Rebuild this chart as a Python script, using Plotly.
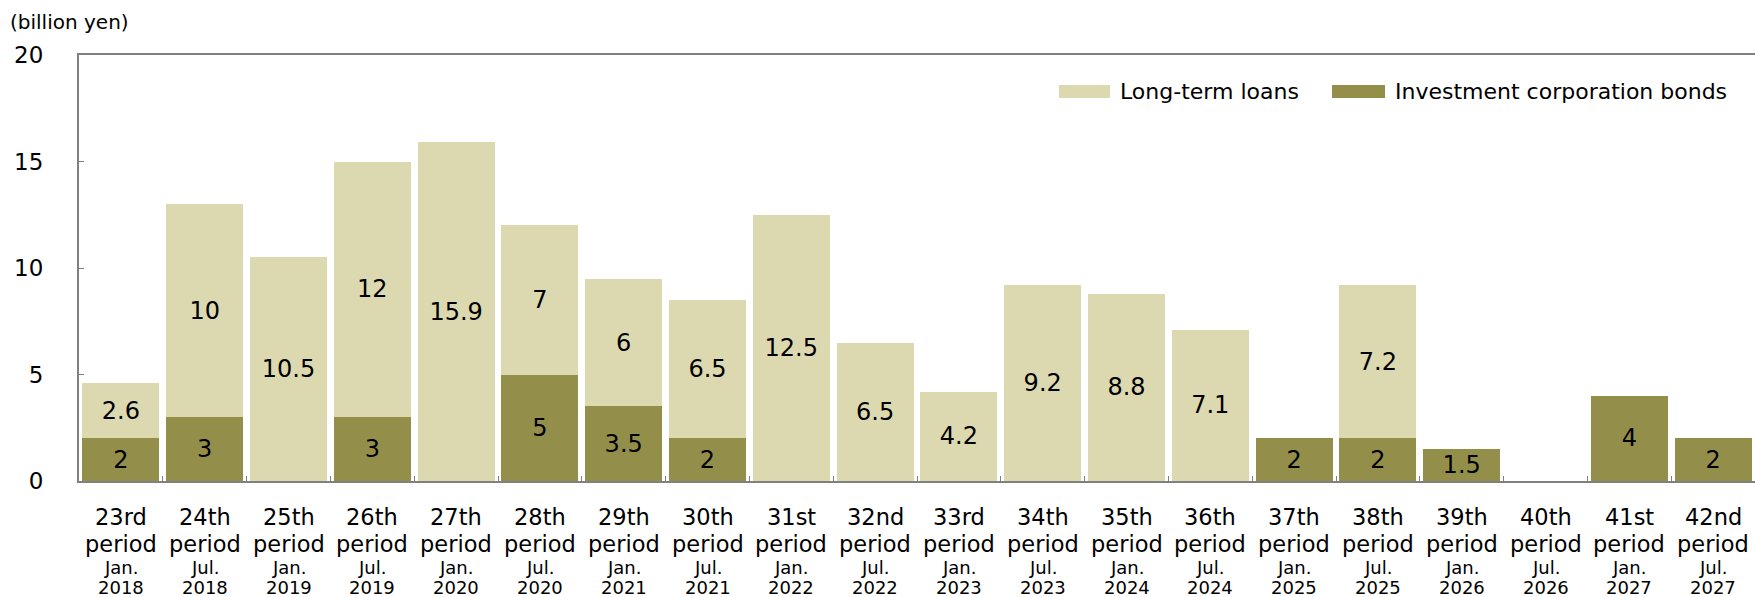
import plotly.graph_objects as go

periods = ["23rd", "24th", "25th", "26th", "27th", "28th", "29th", "30th", "31st", "32nd",
           "33rd", "34th", "35th", "36th", "37th", "38th", "39th", "40th", "41st", "42nd"]
months = ["Jan.", "Jul."] * 10
years = ["2018", "2018", "2019", "2019", "2020", "2020", "2021", "2021", "2022", "2022",
         "2023", "2023", "2024", "2024", "2025", "2025", "2026", "2026", "2027", "2027"]
bonds = [2, 3, None, 3, None, 5, 3.5, 2, None, None,
         None, None, None, None, 2, 2, 1.5, None, 4, 2]
loans = [2.6, 10, 10.5, 12, 15.9, 7, 6, 6.5, 12.5, 6.5,
         4.2, 9.2, 8.8, 7.1, None, 7.2, None, None, None, None]

FONT = "DejaVu Sans, Verdana, sans-serif"
LIGHT = "#DCD9B0"
DARK = "#938F4A"

cats = periods

def fmt(vals):
    return [("" if v is None else f"{v:g}") for v in vals]

fig = go.Figure()
fig.add_trace(go.Bar(
    x=cats, y=bonds, name="Investment corporation bonds",
    marker=dict(color=DARK, line=dict(width=0)),
    text=fmt(bonds), textposition="inside", insidetextanchor="middle",
    textangle=0, constraintext="none",
    textfont=dict(family=FONT, size=24, color="black"),
    showlegend=False,
))
fig.add_trace(go.Bar(
    x=cats, y=loans, name="Long-term loans",
    marker=dict(color=LIGHT, line=dict(width=0)),
    text=fmt(loans), textposition="inside", insidetextanchor="middle",
    textangle=0, constraintext="none",
    textfont=dict(family=FONT, size=24, color="black"),
    showlegend=False,
))

L, R, T, B = 79, 0, 55, 116
W, H = 1755, 597
ph = H - T - B
pw = W - L - R

def px_x(p):
    return (p - L) / pw

def px_y(p):
    return (H - B - p) / ph

annotations = []
for c, m, yv in zip(cats, months, years):
    for txt, ypx, size in ((c, 517, 22.5), ("period", 544, 22.5), (m, 567, 18), (yv, 587, 18)):
        annotations.append(dict(x=c, xref="x", y=px_y(ypx), yref="paper", text=txt,
                                showarrow=False, yanchor="middle", xanchor="center",
                                font=dict(family=FONT, size=size, color="black")))

annotations.append(dict(x=px_x(8), xref="paper", y=px_y(22), yref="paper",
                        text="(billion yen)", showarrow=False, xanchor="left",
                        yanchor="middle", font=dict(family=FONT, size=20, color="black")))

# legend
shapes = []
legend_items = [(1059, 1110, 1118, LIGHT, "Long-term loans"),
                (1332, 1385, 1393, DARK, "Investment corporation bonds")]
for x0, x1, tx, col, label in legend_items:
    shapes.append(dict(type="rect", xref="paper", yref="paper",
                       x0=px_x(x0), x1=px_x(x1), y0=px_y(98), y1=px_y(85),
                       fillcolor=col, line=dict(width=0)))
    annotations.append(dict(x=px_x(tx), xref="paper", y=px_y(91), yref="paper",
                            text=label, showarrow=False, xanchor="left", yanchor="middle",
                            font=dict(family=FONT, size=22, color="black")))

fig.update_layout(
    barmode="stack", bargap=0.08,
    width=W, height=H,
    margin=dict(l=L, r=R, t=T, b=B, autoexpand=False),
    plot_bgcolor="white", paper_bgcolor="white",
    font=dict(family=FONT, color="black"),
    annotations=annotations, shapes=shapes,
    showlegend=False,
)
fig.update_xaxes(
    automargin=False,
    showline=True, linecolor="#808080", linewidth=2, mirror=True,
    ticks="inside", tickson="boundaries", ticklen=5, tickcolor="#808080", tickwidth=1,
    showticklabels=False,
    showgrid=False,
)
fig.update_yaxes(
    automargin=False,
    range=[0, 20], dtick=5,
    showline=True, linecolor="#808080", linewidth=2,
    ticks="inside", ticklen=5, tickcolor="#808080", tickwidth=1,
    tickfont=dict(family=FONT, size=23, color="black"),
    ticklabelstandoff=29,
    showgrid=False, zeroline=False,
)

fig.write_html(
    "out.html",
    config={"displayModeBar": False},
    post_script="document.body.style.margin='0';document.body.style.overflow='hidden';",
)
